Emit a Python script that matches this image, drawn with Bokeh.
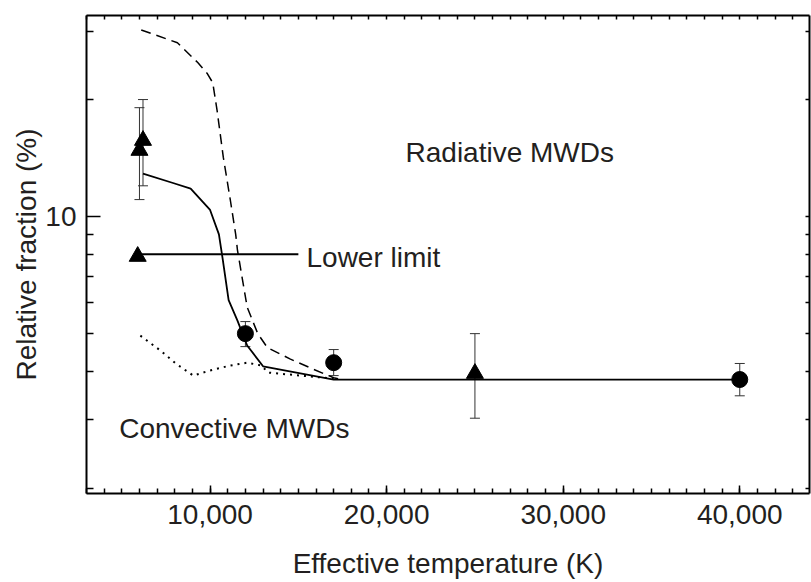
from bokeh.plotting import figure
from bokeh.models import (Range1d, FixedTicker, LogAxis, LinearAxis, Label,
                          NumeralTickFormatter, BasicTickFormatter,
                          ColumnDataSource, Whisker, TeeHead)
from bokeh.embed import file_html
from bokeh.resources import INLINE

# ---- data ----
solid_T = [6200, 7900, 8900, 10000, 10500, 10700, 11050, 11550, 12100, 13000, 17000, 40000]
solid_f = [12.9, 12.2, 11.8, 10.4, 9.0, 7.85, 6.1, 5.4, 4.66, 4.12, 3.81, 3.81]

dashed_T = [6100, 8150, 9300, 9850, 10150, 10400, 10750, 11150, 11450, 11550,
            12100, 12700, 13250, 14550, 15850, 17000, 17500]
dashed_f = [30.2, 28.0, 24.9, 23.3, 22.1, 18.7, 14.2, 11.0, 9.0, 8.2,
            5.85, 5.0, 4.6, 4.3, 4.05, 3.85, 3.81]

dotted_T = [6050, 7200, 8050, 9050, 10000, 11150, 12100, 12900, 13300, 17000]
dotted_f = [4.94, 4.52, 4.19, 3.90, 4.02, 4.14, 4.21, 4.14, 3.97, 3.83]

tri_T = [6000, 6200, 25000]
tri_f = [14.8, 15.7, 3.95]
tri_lo = [11.06, 12.0, 3.03]
tri_hi = [19.06, 20.0, 5.0]

circ_T = [12000, 17000, 40000]
circ_f = [5.0, 4.21, 3.81]
circ_lo = [4.63, 3.90, 3.46]
circ_hi = [5.37, 4.55, 4.19]

limit_T = [5900]
limit_f = [7.9]
limit_line_T = [5900, 15000]
limit_line_f = [8.0, 8.0]

x_major = [10000, 20000, 30000, 40000]
x_minor = list(range(3000, 45000, 1000))
y_major = [10]
y_minor = [2, 3, 4, 5, 6, 7, 8, 9, 20, 30]

x_title = "Effective temperature (K)"
y_title = "Relative fraction (%)"

FONT = "Liberation Sans"
TXT = "#231f20"
FS = "28px"

p = figure(width=811, height=582, x_range=Range1d(3000, 43950),
           y_range=Range1d(1.94, 32.9), y_axis_type="log",
           output_backend="svg", toolbar_location=None,
           min_border_left=86, min_border_right=2, min_border_top=15,
           min_border_bottom=89)
p.xgrid.visible = False
p.ygrid.visible = False
p.outline_line_color = None
p.background_fill_color = "white"
p.border_fill_color = "white"

# axes
xa = p.xaxis[0]
xa.ticker = FixedTicker(ticks=x_major, minor_ticks=x_minor)
xa.formatter = NumeralTickFormatter(format="0,0")
xa.axis_label = x_title
ya = p.yaxis[0]
ya.ticker = FixedTicker(ticks=y_major, minor_ticks=y_minor)
ya.formatter = BasicTickFormatter()
ya.axis_label = y_title

for ax in (xa, ya):
    ax.major_label_text_font = FONT
    ax.major_label_text_font_size = FS
    ax.major_label_text_color = TXT
    ax.axis_label_text_font = FONT
    ax.axis_label_text_font_size = FS
    ax.axis_label_text_font_style = "normal"
    ax.axis_label_text_color = TXT
    ax.axis_line_width = 2
    ax.axis_line_color = "black"
    ax.major_tick_line_width = 1.5
    ax.minor_tick_line_width = 1.5
    ax.major_tick_line_color = "black"
    ax.minor_tick_line_color = "black"
    ax.major_tick_out = 0
    ax.minor_tick_out = 0

xa.major_tick_in = 8
xa.minor_tick_in = 5
xa.major_label_standoff = 11
xa.axis_label_standoff = 21
ya.major_tick_in = 14
ya.minor_tick_in = 7
ya.major_label_standoff = 10
ya.axis_label_standoff = 0

top = LinearAxis(ticker=FixedTicker(ticks=[], minor_ticks=x_minor),
                 axis_line_width=2, major_tick_in=0, major_tick_out=0,
                 minor_tick_in=4, minor_tick_out=0, major_label_standoff=0,
                 minor_tick_line_width=1.5)
right = LogAxis(ticker=FixedTicker(ticks=[], minor_ticks=y_minor + y_major),
                axis_line_width=2, major_tick_in=0, major_tick_out=0,
                minor_tick_in=4, minor_tick_out=0, major_label_standoff=0,
                minor_tick_line_width=1.5)
p.add_layout(top, "above")
p.add_layout(right, "right")

# curves
p.line(dotted_T, dotted_f, line_color="black", line_width=2, line_dash="2 5")
p.line(dashed_T, dashed_f, line_color="black", line_width=1.5, line_dash="10 6")
p.line(solid_T, solid_f, line_color="black", line_width=1.8)
p.line(limit_line_T, limit_line_f, line_color="black", line_width=1.8)

# error bars
tri_src = ColumnDataSource(dict(T=tri_T, f=tri_f, lo=tri_lo, hi=tri_hi))
circ_src = ColumnDataSource(dict(T=circ_T, f=circ_f, lo=circ_lo, hi=circ_hi))
for src in (tri_src, circ_src):
    w = Whisker(source=src, base="T", upper="hi", lower="lo", dimension="height",
                line_color="#333333", line_width=1,
                upper_head=TeeHead(size=10, line_width=1, line_color="#333333"),
                lower_head=TeeHead(size=10, line_width=1, line_color="#333333"))
    p.add_layout(w)

p.scatter("T", "f", source=tri_src, marker="triangle", size=17,
          fill_color="black", line_color="black")
p.scatter("T", "f", source=circ_src, marker="circle", size=16,
          fill_color="black", line_color="black")
p.scatter(limit_T, limit_f, marker="triangle", size=17,
          fill_color="black", line_color="black")

# annotations
for x, y, t in [(21070, 14.6, "Radiative MWDs"),
                (4850, 2.85, "Convective MWDs"),
                (15460, 7.85, "Lower limit")]:
    p.add_layout(Label(x=x, y=y, text=t, text_font=FONT, text_font_size=FS,
                       text_color=TXT, text_baseline="alphabetic"))

open("out.html", "w").write(file_html(p, INLINE))
